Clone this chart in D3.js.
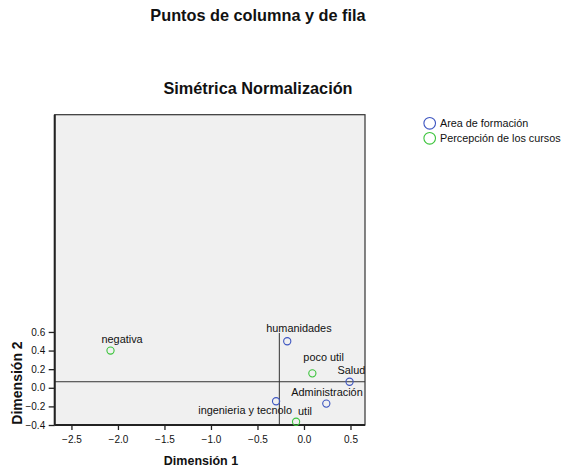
<!DOCTYPE html>
<html><head><meta charset="utf-8">
<script src="https://cdn.jsdelivr.net/npm/d3@7"></script>
<style>
body{margin:0;background:#fff;}
text{font-family:"Liberation Sans",Arial,sans-serif;fill:#111;}
</style></head>
<body><svg id="c" width="562" height="470"></svg>
<script>
// ---- data ----
const seriesNames = ["Area de formación", "Percepción de los cursos"];
const areaLabels = ["humanidades", "Salud", "Administración", "ingenieria y tecnolo"];
const areaDim1 = [-0.18, 0.49, 0.24, -0.30];
const areaDim2 = [0.50, 0.065, -0.17, -0.145];
const percLabels = ["negativa", "poco util", "util"];
const percDim1 = [-2.08, 0.09, -0.085];
const percDim2 = [0.40, 0.155, -0.365];
const xTicks = [-2.5, -2.0, -1.5, -1.0, -0.5, 0.0, 0.5];
const yTicks = [-0.4, -0.2, 0.0, 0.2, 0.4, 0.6];
const refX = -0.265, refY = 0.065;

// ---- layout ----
const svg = d3.select("#c");
const L = 54.7, R = 365, T = 114.7, B = 425;
const x = d3.scaleLinear().domain([-2.68, 0.656]).range([L, R]);
const y = d3.scaleLinear().domain([-0.4, 2.935]).range([B, T]);
const colors = ["#3d55c0", "#3cc43c"];

svg.append("text").attr("x", 258).attr("y", 21).attr("text-anchor", "middle")
  .style("font-size", "16.3px").style("font-weight", "bold").text("Puntos de columna y de fila");
svg.append("text").attr("x", 258).attr("y", 94).attr("text-anchor", "middle")
  .style("font-size", "16.3px").style("font-weight", "bold").text("Simétrica Normalización");

svg.append("rect").attr("x", L).attr("y", T).attr("width", R - L).attr("height", B - T)
  .attr("fill", "#f0f0f0").attr("stroke", "#333").attr("stroke-width", 1.2);

// reference lines
svg.append("line").attr("x1", L).attr("x2", R).attr("y1", y(refY)).attr("y2", y(refY))
  .attr("stroke", "#333").attr("stroke-width", 1);
svg.append("line").attr("x1", x(refX)).attr("x2", x(refX)).attr("y1", y(0.6) + 1).attr("y2", B)
  .attr("stroke", "#333").attr("stroke-width", 1);

// axes
const xAxis = d3.axisBottom(x).tickValues(xTicks).tickFormat(d3.format(".1f")).tickSize(5).tickSizeOuter(0);
const gx = svg.append("g").attr("transform", `translate(0,${B})`).call(xAxis);
gx.select(".domain").attr("d", `M${L},0H${R}`).attr("stroke", "#222").attr("stroke-width", 2);
const yAxis = d3.axisLeft(y).tickValues(yTicks).tickFormat(d3.format(".1f")).tickSize(6).tickSizeOuter(0);
const gy = svg.append("g").attr("transform", `translate(${L},0)`).call(yAxis);
gy.select(".domain").attr("d", `M0,${T}V${B}`).attr("stroke", "#222").attr("stroke-width", 2);
[gx, gy].forEach(g => {
  g.selectAll(".tick line").attr("stroke", "#222").attr("stroke-width", 1.3);
  g.selectAll("text").style("font-size", "10px").style("font-family", "Liberation Sans, Arial, sans-serif").attr("fill", "#111");
});
gx.selectAll(".tick text").attr("dy", "0.95em");
gy.selectAll(".tick text").attr("x", -9.5);

svg.append("text").attr("x", 201).attr("y", 465).attr("text-anchor", "middle")
  .style("font-size", "12.5px").style("font-weight", "bold").text("Dimensión 1");
svg.append("text").attr("transform", "translate(21.5,383) rotate(-90)").attr("text-anchor", "middle")
  .style("font-size", "14px").style("font-weight", "bold").text("Dimensión 2");

// points
const pts = [];
areaLabels.forEach((l, i) => pts.push({label: l, d1: areaDim1[i], d2: areaDim2[i], s: 0}));
percLabels.forEach((l, i) => pts.push({label: l, d1: percDim1[i], d2: percDim2[i], s: 1}));
// label placement offsets (layout only)
const labelPos = {
  "negativa": [-9, -8, "start"], "humanidades": [-21, -9, "start"], "poco util": [-9, -12, "start"],
  "Salud": [-12, -8, "start"], "Administración": [-35, -8, "start"],
  "ingenieria y tecnolo": [16, 13, "end"], "util": [2, -7, "start"]
};
svg.append("clipPath").attr("id", "pc").append("rect")
  .attr("x", L).attr("y", T).attr("width", R - L).attr("height", B - T);
const g = svg.append("g");
g.selectAll("circle").data(pts).join("circle")
  .attr("cx", d => x(d.d1)).attr("cy", d => y(d.d2)).attr("r", 3.6)
  .attr("fill", "none").attr("stroke", d => colors[d.s]).attr("stroke-width", 1.1);
g.selectAll("text.lab").data(pts).join("text").attr("class", "lab")
  .attr("clip-path", "url(#pc)")
  .attr("x", d => x(d.d1) + labelPos[d.label][0]).attr("y", d => y(d.d2) + labelPos[d.label][1])
  .attr("text-anchor", d => labelPos[d.label][2])
  .style("font-size", "10.9px").text(d => d.label);

// legend
const lg = svg.append("g");
seriesNames.forEach((n, i) => {
  lg.append("circle").attr("cx", 429.7).attr("cy", 123.3 + i * 15).attr("r", 5.8)
    .attr("fill", "none").attr("stroke", colors[i]).attr("stroke-width", 1.1);
  lg.append("text").attr("x", 440).attr("y", 127.2 + i * 15).style("font-size", "10.8px").text(n);
});
</script></body></html>
